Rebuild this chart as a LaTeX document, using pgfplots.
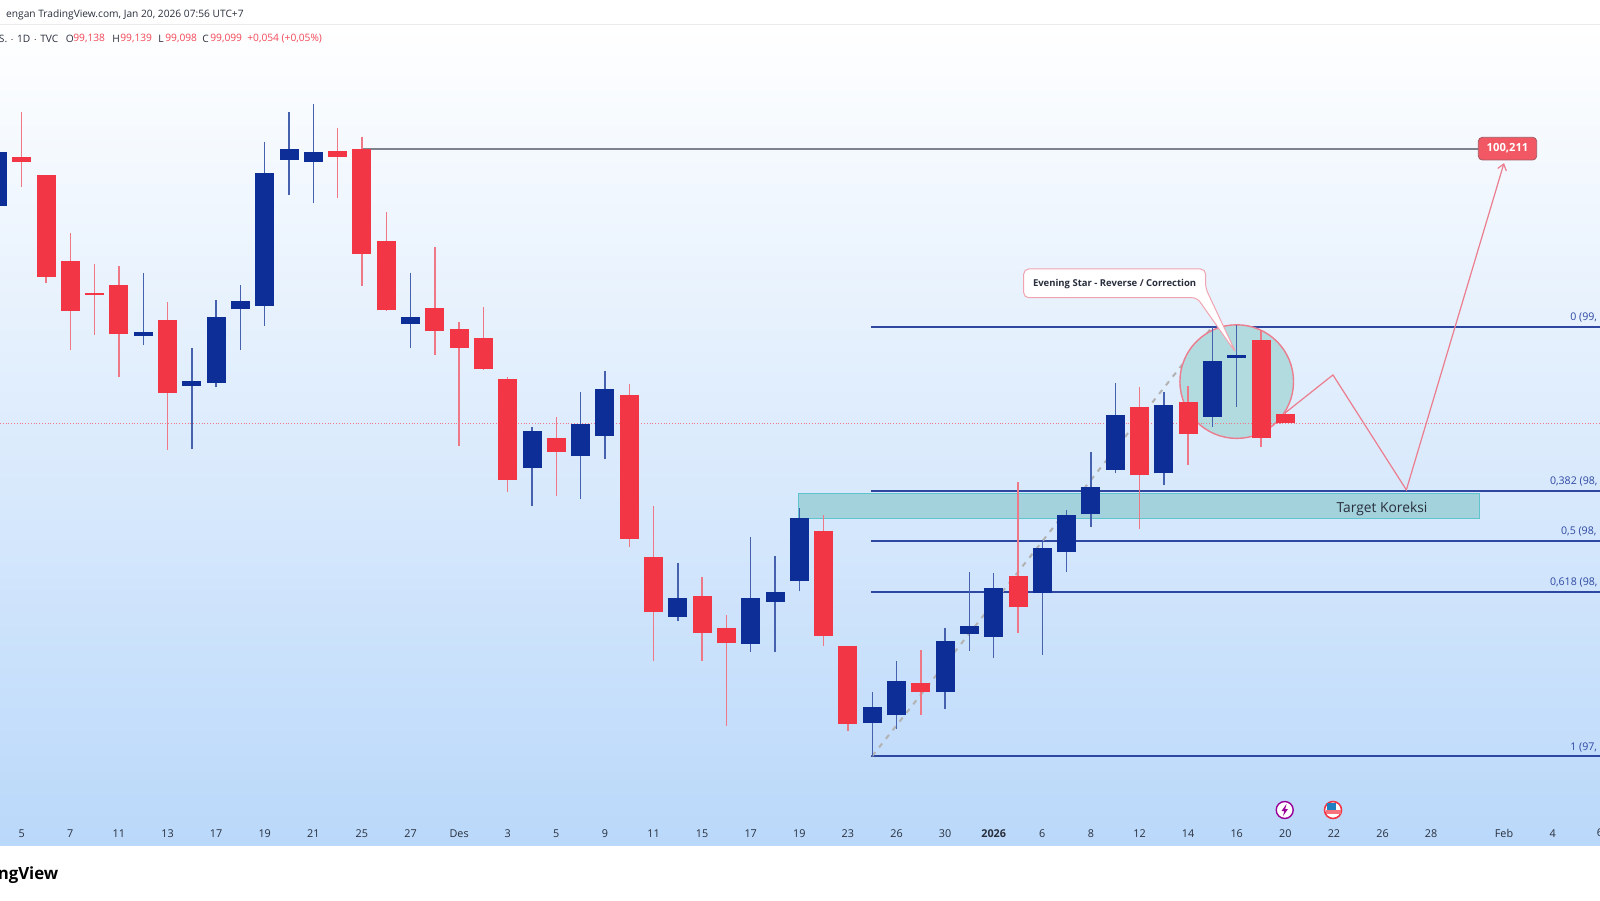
\documentclass[border=0pt]{standalone}
\usepackage{pgfplots}
\usepackage{pgfplotstable}
\usepackage{fontspec}
\setmainfont{Open Sans}
\pgfplotsset{compat=1.18}
\usetikzlibrary{arrows.meta}
\definecolor{tvblue}{RGB}{12,46,150}
\definecolor{tvred}{RGB}{242,54,69}
\definecolor{wblue}{RGB}{70,98,175}
\definecolor{wred}{RGB}{238,120,134}
\definecolor{fibc}{RGB}{46,72,162}
\definecolor{panelb}{RGB}{186,216,250}
\definecolor{zonef}{RGB}{163,210,220}
\definecolor{zoned}{RGB}{95,196,206}
\definecolor{circf}{RGB}{178,219,224}
\definecolor{pinkl}{RGB}{235,125,142}
\definecolor{txt}{RGB}{40,46,60}
\definecolor{hdrc}{RGB}{242,70,85}
\definecolor{grayl}{RGB}{125,130,140}
% i  bodytop bodybot high low  (price)
\pgfplotstableread{
i top bot hi lo
0 100.198 99.980 100.268 99.964
6 99.470 99.452 99.710 99.416
8 99.272 99.251 99.403 98.994
9 99.531 99.264 99.598 99.245
10 99.596 99.561 99.658 99.396
11 100.112 99.576 100.241 99.495
12 100.211 100.168 100.361 100.025
13 100.198 100.157 100.393 99.991
17 99.531 99.500 99.710 99.404
22 99.069 98.918 99.083 98.764
24 99.095 98.965 99.227 98.793
25 99.239 99.049 99.312 98.953
28 98.391 98.314 98.531 98.296
31 98.391 98.205 98.639 98.173
32 98.416 98.376 98.561 98.173
33 98.715 98.460 98.756 98.418
36 97.950 97.885 98.010 97.750
37 98.053 97.915 98.135 97.858
39 98.216 98.008 98.268 97.940
40 98.278 98.245 98.497 98.175
41 98.430 98.234 98.493 98.146
43 98.595 98.410 98.619 98.160
44 98.727 98.576 98.747 98.497
45 98.842 98.731 98.981 98.680
46 99.134 98.911 99.261 98.896
48 99.174 98.896 99.226 98.850
50 99.353 99.126 99.491 99.085
51 99.376 99.365 99.496 99.166
}\bluetbl
\pgfplotstableread{
i top bot hi lo
1 100.179 100.157 100.361 100.058
2 100.106 99.693 100.106 99.669
3 99.757 99.554 99.869 99.396
4 99.628 99.618 99.745 99.457
5 99.658 99.460 99.738 99.288
7 99.517 99.223 99.591 98.991
14 100.202 100.180 100.295 100.011
15 100.211 99.785 100.261 99.656
16 99.839 99.557 99.957 99.554
18 99.568 99.473 99.815 99.375
19 99.480 99.404 99.511 99.008
20 99.444 99.318 99.569 99.317
21 99.280 98.868 99.285 98.822
23 99.039 98.983 99.126 98.804
26 99.215 98.629 99.257 98.596
27 98.556 98.333 98.764 98.135
29 98.399 98.248 98.475 98.135
30 98.268 98.207 98.321 97.872
34 98.664 98.238 98.727 98.197
35 98.196 97.881 98.196 97.853
38 98.047 98.011 98.180 97.916
42 98.480 98.354 98.862 98.250
47 99.164 98.888 99.245 98.672
49 99.185 99.056 99.251 98.930
52 99.437 99.041 99.477 99.004
53 99.138 99.099 99.139 99.098
}\redtbl
\begin{document}
\begin{tikzpicture}
\path[use as bounding box, clip] (0,0) rectangle (800pt,450pt);
\begin{axis}[
  at={(0pt,27.15pt)}, anchor=south west,
  scale only axis, width=800pt, height=410.7pt,
  xmin=0.107, xmax=65.95, ymin=97.3865, ymax=100.7165,
  axis background/.style={top color=white, bottom color=panelb},
  axis line style={draw=none},
  ytick=\empty,
  xtick={1,3,5,7,9,11,13,15,17,19,21,23,25,27,29,31,33,35,37,39,41,43,45,47,49,51,53,55,57,59,62,64},
  xticklabels={5,7,11,13,17,19,21,25,27,Des,3,5,9,11,15,17,19,23,26,30,\textbf{2026},6,8,12,14,16,20,22,26,28,Feb,4},
  major tick length=0pt,
  xtick style={draw=none},
  xticklabel style={anchor=center, yshift=6pt, font=\fontsize{5.4pt}{6pt}\selectfont, text=txt},
]
% current price line
\addplot[densely dotted, line width=0.4pt, color=wred] coordinates {(0.107,99.099) (65.95,99.099)};
% high line
\addplot[line width=0.8pt, color=grayl] coordinates {(15,100.211) (60.94,100.211)};
% fibonacci levels
\addplot[line width=1pt, color=fibc] coordinates {(35.95,99.491) (65.95,99.491)};
\addplot[line width=1pt, color=fibc] coordinates {(35.95,98.825) (65.95,98.825)};
\addplot[line width=1pt, color=fibc] coordinates {(35.95,98.620) (65.95,98.620)};
\addplot[line width=1pt, color=fibc] coordinates {(35.95,98.415) (65.95,98.415)};
\addplot[line width=1pt, color=fibc] coordinates {(35.95,97.750) (65.95,97.750)};
% trend
\addplot[line width=1pt, color=black!30!white, dash pattern=on 2.5pt off 3pt] coordinates {(36,97.750) (50,99.491)};
% correction zone
\addplot[fill=zonef, draw=zoned, line width=0.6pt] coordinates {(32.96,98.814) (60.99,98.814) (60.99,98.714) (32.96,98.714)} -- cycle;
% circle
\draw[fill=circf, draw=pinkl, line width=0.7pt] (axis cs:51,99.268) circle [radius=28.4pt];
\addplot[densely dotted, line width=0.4pt, color=wred] coordinates {(49.4,99.099) (52.8,99.099)};
% wicks
\addplot[quiver={u=0,v=\thisrow{hi}-\thisrow{lo}}, draw=wblue, line width=0.7pt] table[x=i,y=lo] {\bluetbl};
\addplot[quiver={u=0,v=\thisrow{hi}-\thisrow{lo}}, draw=wred, line width=0.7pt] table[x=i,y=lo] {\redtbl};
% bodies
\addplot[quiver={u=0,v=\thisrow{top}-\thisrow{bot}}, draw=tvblue, line width=9.5pt] table[x=i,y=bot] {\bluetbl};
\addplot[quiver={u=0,v=\thisrow{top}-\thisrow{bot}}, draw=tvred, line width=9.5pt] table[x=i,y=bot] {\redtbl};
% forecast path
\addplot[line width=0.6pt, color=pinkl, -{Straight Barb[length=3pt,width=4.5pt]}] coordinates {(52.99,99.141) (54.96,99.295) (57.98,98.829) (62.0,100.154)};
\end{axis}
\begin{scope}[x=0.5pt,y=-0.5pt,yshift=450pt]
  % header
  \draw[color=black!8, line width=0.4pt] (0,24.3) -- (1600,24.3);
  \node[anchor=east, font=\fontsize{5.1pt}{6pt}\selectfont, text=txt, inner sep=0] at (244,15) {engan TradingView.com, Jan 20, 2026 07:56 UTC+7};
  \tikzset{hd/.style={anchor=west, inner sep=0, font=\fontsize{5.1pt}{6pt}\selectfont}}
  \node[hd, text=txt, anchor=east] at (58.7,38.5) {S. $\cdot$ 1D $\cdot$ TVC};
  \node[hd, text=txt] at (65.5,38.5) {O};
  \node[hd, text=hdrc] at (73,38.5) {99,138};
  \node[hd, text=txt] at (112,38.5) {H};
  \node[hd, text=hdrc] at (120,38.5) {99,139};
  \node[hd, text=txt] at (158,38.5) {L};
  \node[hd, text=hdrc] at (165,38.5) {99,098};
  \node[hd, text=txt] at (202,38.5) {C};
  \node[hd, text=hdrc] at (210,38.5) {99,099};
  \node[hd, text=hdrc] at (247,38.5) {+0,054 (+0,05\%)};
  % price tag
  \fill[draw=black!30!pinkl, fill=pinkl!70!red, rounded corners=2pt, line width=0.4pt] (1478.3,137.3) rectangle (1536.7,160);
  \node[font=\fontsize{5.6pt}{6pt}\selectfont\bfseries, text=white, inner sep=0] at (1507.5,148.5) {100,211};
  % fib labels
  \tikzset{fl/.style={anchor=west, inner sep=0, text=fibc, font=\fontsize{5.3pt}{6pt}\selectfont}}
  \node[fl] at (1570,317) {0 (99,};
  \node[fl] at (1549.6,481) {0,382 (98,};
  \node[fl] at (1560.7,531) {0,5 (98,};
  \node[fl] at (1549.6,582) {0,618 (98,};
  \node[fl] at (1570,747) {1 (97,};
  % zone label
  \node[font=\fontsize{6.9pt}{8pt}\selectfont, text=txt, inner sep=0] at (1382,509) {Target Koreksi};
  % callout
  \draw[fill=white, draw=pinkl!70!white, line width=0.5pt, rounded corners=2.5pt]
    (1023.7,269) -- (1205.5,269) -- (1205.5,288) -- (1236,353) -- (1197,297.7) -- (1023.7,297.7) -- cycle;
  \node[font=\fontsize{4.75pt}{6pt}\selectfont\bfseries, text=txt, inner sep=0] at (1114.6,283.7) {Evening Star - Reverse / Correction};
  % last tick
  \node[font=\fontsize{5.4pt}{6pt}\selectfont, text=txt, inner sep=0] at (1600,833) {6};
  % icons
  \draw[fill=white, draw=violet!80!magenta, line width=0.7pt] (1284.7,810) circle (8.5);
  \fill[violet!80!magenta] (1286.5,804) -- (1281.5,811) -- (1284.3,811) -- (1283,816) -- (1288,809) -- (1285.2,809) -- cycle;
  \draw[fill=white, draw=tvred, line width=0.8pt] (1333,810) circle (8.5);
  \fill[tvred!70!white] (1325.5,810) rectangle (1340.5,814);
  \fill[fibc!70!cyan] (1327,803) rectangle (1336,810);
  % brand
  \node[anchor=east, inner sep=0, font=\fontsize{8.4pt}{10pt}\selectfont\bfseries, text=black] at (58.7,875) {ngView};
\end{scope}
\end{tikzpicture}
\end{document}
